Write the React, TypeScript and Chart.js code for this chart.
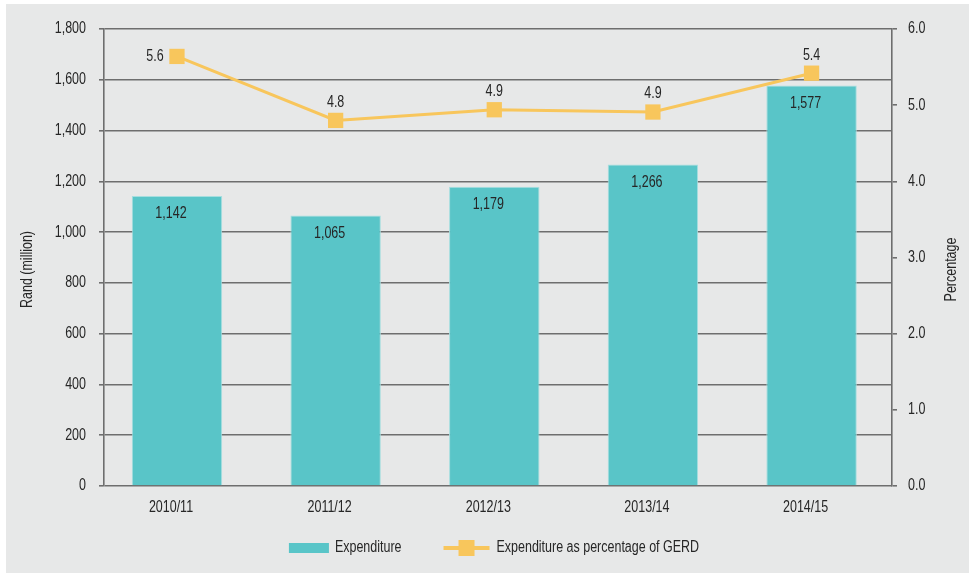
import React, { useEffect, useRef } from 'react';
import { Chart, registerables } from 'chart.js';

Chart.register(...registerables);

const categories = ['2010/11', '2011/12', '2012/13', '2013/14', '2014/15'];
const expenditure = [1142, 1065, 1179, 1266, 1577];
const gerdPercentage = [5.64, 4.8, 4.94, 4.91, 5.42];
const leftAxis = { min: 0, max: 1800, step: 200 };
const rightAxis = { min: 0, max: 6, step: 1 };
const seriesNames = ['Expenditure', 'Expenditure as percentage of GERD'];
const axisTitles = ['Rand (million)', 'Percentage'];

const FONT = '"Liberation Sans", Arial, sans-serif';
const FONT_SIZE = 16;
const NARROW = 0.78;
const TEXT = '#262626';
const BAR = '#59c5c8';
const LINE = '#f8c65c';
const GRID = '#6e6e6e';
const BG = '#e7e8e8';
const TEXT_SHIFT = -6;

const fmtThousands = (v: number) => v.toLocaleString('en-US');

function drawText(ctx: CanvasRenderingContext2D, text: string, x: number, y: number, align: CanvasTextAlign, rotate = 0) {
  ctx.save();
  ctx.translate(x, y);
  if (rotate) ctx.rotate(rotate);
  ctx.scale(NARROW, 1);
  ctx.font = `${FONT_SIZE}px ${FONT}`;
  ctx.fillStyle = TEXT;
  ctx.textAlign = align;
  ctx.textBaseline = 'middle';
  ctx.fillText(text, 0, 0);
  ctx.restore();
}

function textWidth(ctx: CanvasRenderingContext2D, text: string) {
  ctx.save();
  ctx.font = `${FONT_SIZE}px ${FONT}`;
  const w = ctx.measureText(text).width * NARROW;
  ctx.restore();
  return w;
}

const textLayer = {
  id: 'textLayer',
  afterDraw(chart: any) {
    const ctx: CanvasRenderingContext2D = chart.ctx;
    const area = chart.chartArea;
    const midY = (area.top + area.bottom) / 2 + 12;

    // left axis ticks + title
    const ys = chart.scales.y;
    ys.ticks.forEach((t: any, i: number) => {
      drawText(ctx, fmtThousands(t.value), ys.right - 5 - 13, ys.getPixelForTick(i), 'right');
    });
    drawText(ctx, axisTitles[0], 22, midY, 'center', -Math.PI / 2);

    // right axis ticks + title
    const ys1 = chart.scales.y1;
    ys1.ticks.forEach((t: any, i: number) => {
      drawText(ctx, Number(t.value).toFixed(1), ys1.left + 5 + 11, ys1.getPixelForTick(i), 'left');
    });
    drawText(ctx, axisTitles[1], chart.width - 17, midY, 'center', -Math.PI / 2);

    // category labels
    const xs = chart.scales.x;
    categories.forEach((c, i) => {
      drawText(ctx, c, xs.getPixelForValue(i) + TEXT_SHIFT, area.bottom + 22, 'center');
    });

    // value labels
    const barMeta = chart.getDatasetMeta(1);
    barMeta.data.forEach((el: any, i: number) => {
      drawText(ctx, fmtThousands(expenditure[i]), el.x + TEXT_SHIFT, el.y + 18, 'center');
    });
    const lineMeta = chart.getDatasetMeta(0);
    lineMeta.data.forEach((el: any, i: number) => {
      const txt = gerdPercentage[i].toFixed(1);
      if (i === 0) drawText(ctx, txt, el.x - 22, el.y, 'center');
      else drawText(ctx, txt, el.x, el.y - 18, 'center');
    });

    // legend
    const w1 = textWidth(ctx, seriesNames[0]);
    const w2 = textWidth(ctx, seriesNames[1]);
    const total = 40 + 6 + w1 + 42 + 46 + 7 + w2;
    let x = (area.left + area.right) / 2 - total / 2 - 4;
    const y = 544;
    ctx.save();
    ctx.fillStyle = BAR;
    ctx.fillRect(x, y - 5, 40, 10);
    ctx.restore();
    x += 46;
    drawText(ctx, seriesNames[0], x, y, 'left');
    x += w1 + 42;
    ctx.save();
    ctx.strokeStyle = LINE;
    ctx.lineWidth = 4;
    ctx.beginPath();
    ctx.moveTo(x, y);
    ctx.lineTo(x + 46, y);
    ctx.stroke();
    ctx.fillStyle = LINE;
    ctx.fillRect(x + 23 - 8, y - 8, 16, 16);
    ctx.restore();
    x += 53;
    drawText(ctx, seriesNames[1], x, y, 'left');
  },
};

export default function App() {
  const ref = useRef<HTMLCanvasElement | null>(null);

  useEffect(() => {
    if (!ref.current) return;
    const chart = new Chart(ref.current, {
      type: 'bar',
      data: {
        datasets: [
          {
            type: 'line',
            label: seriesNames[1],
            data: gerdPercentage.map((v, i) => ({ x: i, y: v })),
            yAxisID: 'y1',
            borderColor: LINE,
            backgroundColor: LINE,
            borderWidth: 3,
            tension: 0,
            pointStyle: 'rect',
            pointRadius: 10.8,
            pointBackgroundColor: LINE,
            pointBorderWidth: 0,
            order: 0,
          } as any,
          {
            type: 'bar',
            label: seriesNames[0],
            data: expenditure.map((v, i) => ({ x: i, y: v })),
            yAxisID: 'y',
            backgroundColor: BAR,
            borderColor: '#a6dedf',
            borderWidth: 1,
            borderSkipped: 'bottom',
            categoryPercentage: 1,
            barPercentage: 0.57,
            order: 1,
          } as any,
        ],
      },
      options: {
        animation: false,
        responsive: false,
        layout: { padding: { top: 25, left: 0, right: 0, bottom: 47 } },
        plugins: {
          legend: { display: false },
          tooltip: { enabled: false },
        },
        scales: {
          x: {
            type: 'linear',
            offset: false,
            min: -0.46,
            max: 4.507,
            grid: { display: false, drawTicks: false },
            border: { display: false },
            ticks: { display: false, stepSize: 1, includeBounds: false },
            afterFit: (s: any) => { s.height = 40; },
          },
          y: {
            position: 'left',
            min: leftAxis.min,
            max: leftAxis.max,
            ticks: {
              stepSize: leftAxis.step,
              color: 'rgba(0,0,0,0)',
              font: { family: FONT, size: FONT_SIZE },
              padding: 13,
              callback: (v: any) => fmtThousands(Number(v)),
            },
            grid: { color: GRID, lineWidth: 1.6, tickLength: 5, tickColor: GRID },
            border: { display: true, color: GRID, width: 1.6 },
            afterFit: (s: any) => { s.width = 98; },
          },
          y1: {
            position: 'right',
            min: rightAxis.min,
            max: rightAxis.max,
            ticks: {
              stepSize: rightAxis.step,
              color: 'rgba(0,0,0,0)',
              font: { family: FONT, size: FONT_SIZE },
              padding: 11,
              callback: (v: any) => Number(v).toFixed(1),
            },
            grid: { drawOnChartArea: false, color: GRID, lineWidth: 1.6, tickLength: 5, tickColor: GRID },
            border: { display: true, color: GRID, width: 1.6 },
            afterFit: (s: any) => { s.width = 77; },
          },
        },
      } as any,
      plugins: [textLayer],
    });
    return () => chart.destroy();
  }, []);

  return (
    <div style={{ position: 'absolute', left: 0, top: 0, width: 969, height: 573, background: '#ffffff' }}>
      <div style={{ position: 'absolute', left: 6, top: 4, width: 963, height: 569, background: BG }}>
        <canvas ref={ref} width={963} height={569} style={{ display: 'block' }} />
      </div>
    </div>
  );
}
